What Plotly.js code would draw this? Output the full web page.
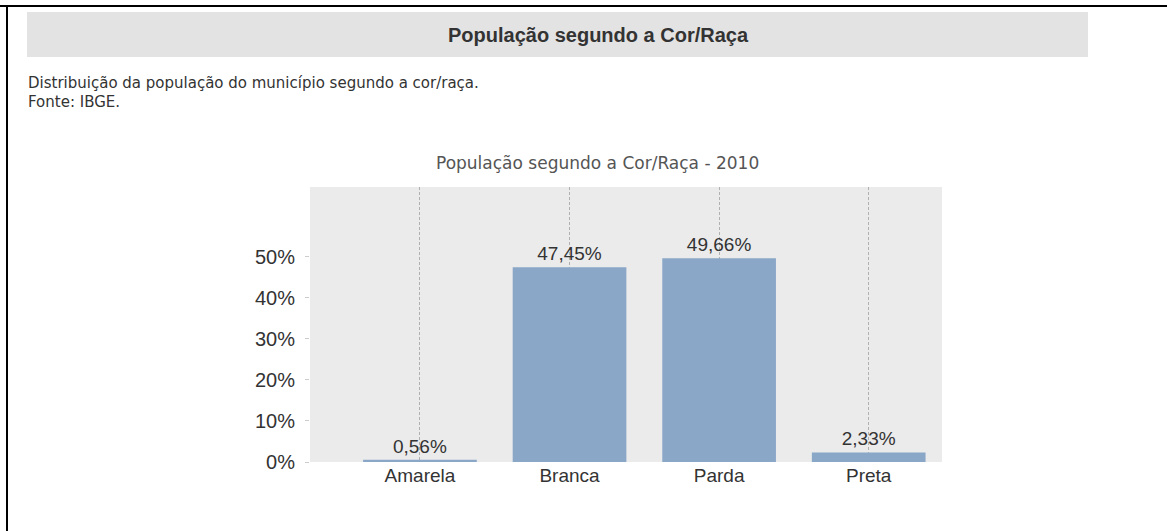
<!DOCTYPE html>
<html>
<head>
<meta charset="utf-8">
<script src="https://cdn.plot.ly/plotly-3.0.1.min.js"></script>
<style>
html,body{margin:0;padding:0;background:#fff;}
#chart{width:1167px;height:531px;}
</style>
</head>
<body>
<div id="chart"></div>
<script>
const categories = ["Amarela", "Branca", "Parda", "Preta"];
const values = [0.56, 47.45, 49.66, 2.33];
const yTickVals = [0, 10, 20, 30, 40, 50];
const yTickText = ["0%", "10%", "20%", "30%", "40%", "50%"];
const headerTitle = "População segundo a Cor/Raça";
const descLine1 = "Distribuição da população do município segundo a cor/raça.";
const descLine2 = "Fonte: IBGE.";
const chartTitle = "População segundo a Cor/Raça - 2010";

const W = 1167, H = 531;
const L = 310, R = 942, T = 187, B = 462;
const px = x => (x - L) / (R - L);
const py = y => (B - y) / (B - T);

const labels = values.map(v => v.toFixed(2).replace('.', ',') + '%');

const trace = {
  type: 'bar',
  x: categories,
  y: values,
  text: labels,
  textposition: 'outside',
  textfont: {family: 'Liberation Sans, Arial, sans-serif', size: 19, color: '#333'},
  cliponaxis: false,
  marker: {color: '#8aa7c8'},
  width: 0.76,
  hoverinfo: 'skip'
};

const layout = {
  width: W, height: H,
  margin: {l: L, r: W - R, t: T, b: H - B, pad: 0},
  paper_bgcolor: '#ffffff',
  plot_bgcolor: '#ebebeb',
  showlegend: false,
  xaxis: {
    type: 'category',
    range: [-0.735, 3.49],
    showgrid: true, gridcolor: '#b0b0b0', griddash: '3px,2px', gridwidth: 1,
    zeroline: false, showline: false,
    ticks: '', ticklen: 0,
    tickfont: {family: 'Liberation Sans, Arial, sans-serif', size: 19, color: '#333'},
    fixedrange: true
  },
  yaxis: {
    range: [0, 67],
    tickvals: yTickVals, ticktext: yTickText,
    showgrid: false, zeroline: false, showline: false,
    ticks: 'outside', ticklen: 4, tickcolor: '#cccccc',
    ticklabelstandoff: 6,
    tickfont: {family: 'Liberation Sans, Arial, sans-serif', size: 20, color: '#333'},
    fixedrange: true
  },
  shapes: [
    {type: 'line', xref: 'paper', yref: 'paper', x0: px(0), x1: px(W), y0: py(6), y1: py(6), line: {color: '#000', width: 2}},
    {type: 'line', xref: 'paper', yref: 'paper', x0: px(7), x1: px(7), y0: py(5), y1: py(H), line: {color: '#000', width: 2}},
    {type: 'rect', xref: 'paper', yref: 'paper', x0: px(27), x1: px(1088), y0: py(12), y1: py(57), fillcolor: '#e3e3e3', line: {width: 0}, layer: 'below'}
  ],
  annotations: [
    {xref: 'paper', yref: 'paper', x: px(598), y: py(35), text: '<b>' + headerTitle + '</b>', showarrow: false, xanchor: 'center', yanchor: 'middle',
     font: {family: 'Liberation Sans, Arial, sans-serif', size: 20, color: '#333'}},
    {xref: 'paper', yref: 'paper', x: px(26), y: py(83), text: descLine1, showarrow: false, xanchor: 'left', yanchor: 'middle',
     font: {family: 'DejaVu Sans, Verdana, sans-serif', size: 15, color: '#333'}},
    {xref: 'paper', yref: 'paper', x: px(26), y: py(102), text: descLine2, showarrow: false, xanchor: 'left', yanchor: 'middle',
     font: {family: 'DejaVu Sans, Verdana, sans-serif', size: 15, color: '#333'}},
    {xref: 'paper', yref: 'paper', x: px(597), y: py(163), text: chartTitle, showarrow: false, xanchor: 'center', yanchor: 'middle',
     font: {family: 'DejaVu Sans, Verdana, sans-serif', size: 17, color: '#555'}}
  ]
};

Plotly.newPlot('chart', [trace], layout, {displayModeBar: false, staticPlot: true});
</script>
</body>
</html>
